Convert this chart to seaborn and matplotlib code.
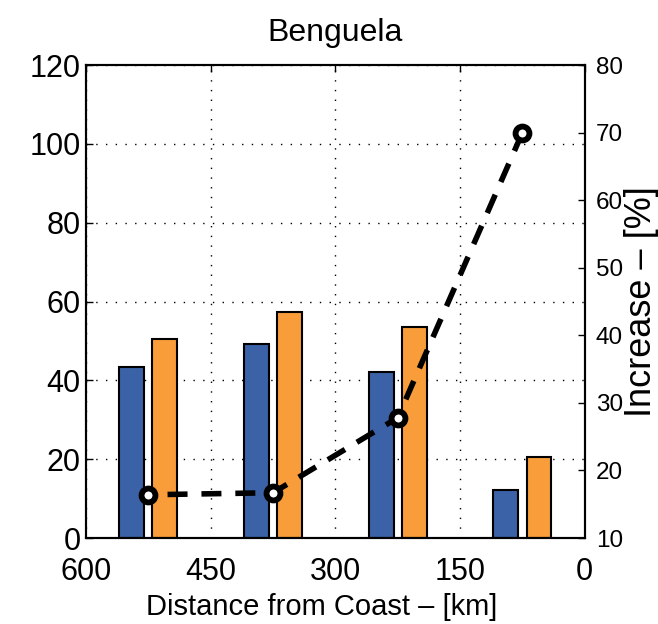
#!/usr/bin/env python3
"""Benguela: bar pairs by distance from coast, with percent increase on a twin axis."""

import pandas as pd
import matplotlib
matplotlib.use("Agg")
import matplotlib.pyplot as plt
import seaborn as sns

# data
distance_km = [525, 375, 225, 75]
series_names = ["Case 1", "Case 2"]
case1_values = [43.5, 49.2, 42.0, 12.1]
case2_values = [50.4, 57.4, 53.6, 20.6]
increase_pct = [16.4, 16.7, 27.8, 70.0]

x_ticks = [600, 450, 300, 150, 0]
left_ticks = [0, 20, 40, 60, 80, 100, 120]
right_ticks = [10, 20, 30, 40, 50, 60, 70, 80]

BLUE = "#3b62a6"
ORANGE = "#f89d3a"

sns.set_style("white")
plt.rcParams["font.family"] = ["Liberation Sans", "DejaVu Sans"]
for key in ["text.color", "axes.labelcolor", "xtick.color", "ytick.color"]:
    plt.rcParams[key] = "black"

df_bars = pd.DataFrame({
    "distance": distance_km * 2,
    "value": case1_values + case2_values,
    "series": [series_names[0]] * 4 + [series_names[1]] * 4,
})
df_line = pd.DataFrame({"distance": distance_km, "increase": increase_pct})

fig = plt.figure(figsize=(6.58, 6.24), dpi=100)
ax = fig.add_axes([0.1307, 0.1378, 0.758, 0.758])

# blue bar sits on the far (left) side of each pair on the inverted axis
sns.barplot(data=df_bars, x="distance", y="value", hue="series",
            hue_order=[series_names[1], series_names[0]],
            palette={series_names[0]: BLUE, series_names[1]: ORANGE},
            saturation=1, native_scale=True, width=0.533, gap=0.25, dodge=True,
            edgecolor="black", linewidth=1.5, legend=False, ax=ax)

ax.set_xlim(600, 0)
ax.set_ylim(0, 120)
ax.set_xticks(x_ticks)
ax.set_yticks(left_ticks)
ax.set_xticklabels([str(t) for t in x_ticks], fontsize=22)
ax.set_yticklabels([str(t) for t in left_ticks], fontsize=22)
ax.tick_params(direction="in", length=5, width=1, top=True)
ax.tick_params(axis="x", pad=14)
ax.tick_params(axis="y", pad=4)
ax.grid(True, color="black", linestyle=(0, (1, 6)), linewidth=1)
ax.set_axisbelow(True)
ax.set_xlabel("Distance from Coast – [km]", fontsize=21, labelpad=4)
ax.xaxis.label.set_x(0.472)
ax.set_ylabel("")
ax.set_title("Benguela", fontsize=23, pad=17)
for sp in ax.spines.values():
    sp.set_linewidth(1.5)
    sp.set_color("black")

ax2 = ax.twinx()
sns.lineplot(data=df_line, x="distance", y="increase", ax=ax2, color="black",
             linewidth=4, dashes=False, marker="o", markersize=10,
             markerfacecolor="white", markeredgecolor="black",
             markeredgewidth=4.2, zorder=5)
ax2.lines[0].set_dashes((3.6, 2.5))
ax2.set_ylim(10, 80)
ax2.set_yticks(right_ticks)
ax2.set_yticklabels([str(t) for t in right_ticks], fontsize=17.5)
ax2.tick_params(direction="in", length=5, width=1, pad=8)
ax2.set_ylabel("Increase – [%]", fontsize=26, labelpad=1)
ax2.set_xlim(600, 0)
for sp in ax2.spines.values():
    sp.set_linewidth(1.5)
    sp.set_color("black")

fig.savefig("out.png", dpi=100)
plt.close(fig)
